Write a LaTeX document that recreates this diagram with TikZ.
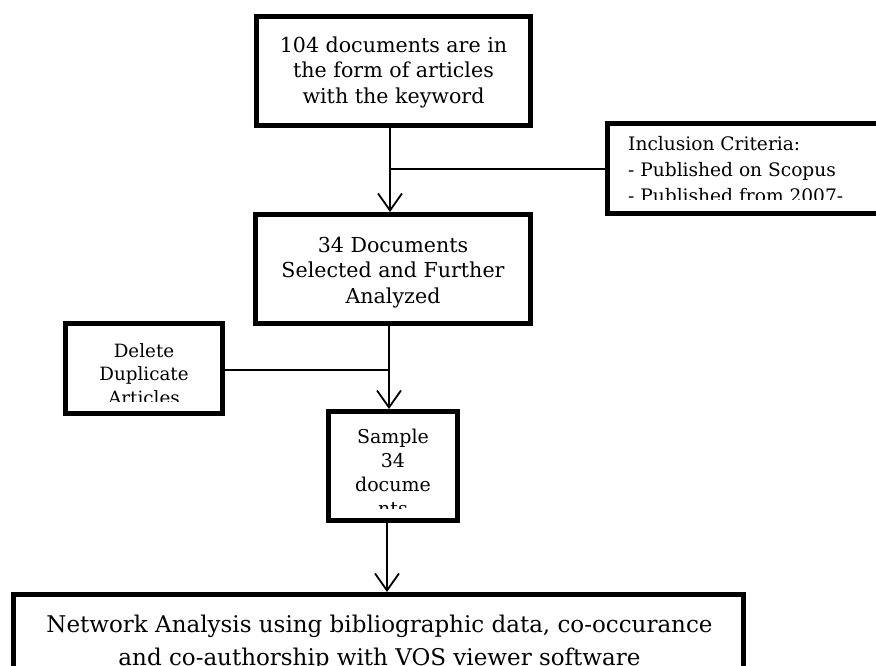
\documentclass[tikz,border=0pt]{standalone}
\usepackage{fontspec}
\setmainfont{DejaVu Serif}
\usetikzlibrary{arrows.meta}
\begin{document}
\begin{tikzpicture}[x=1pt,y=-1pt,
  boxframe/.style={draw=black,line width=5pt,inner sep=0pt},
  txt/.style={inner sep=0pt,text=black},
  conn/.style={draw=black,line width=1.8pt},
  arr/.style={conn,-{Straight Barb[length=17pt,width=24pt,line width=1.8pt]}},
  ]
\useasboundingbox[fill=white] (0,0) rectangle (876,666);
% junction coordinates
\coordinate (j1) at (390,169);
\coordinate (j2) at (389,370);
\coordinate (j3) at (387,560);
% text (clipped as in the reference)
\node[txt,align=center,anchor=north,font=\fontsize{20.6}{25.5}\selectfont] (t1) at (393.5,36.3)
  {104 documents are in\\the form of articles\\with the keyword};
\node[txt,align=center,anchor=north,font=\fontsize{20.6}{25.5}\selectfont] (t2) at (393,237)
  {34 Documents\\Selected and Further\\Analyzed};
\begin{scope}
  \clip (608,124) rectangle (880,200);
  \node[txt,align=left,anchor=north west,font=\fontsize{18.6}{26}\selectfont] (t3) at (628,135.9)
    {Inclusion Criteria:\\- Published on Scopus\\- Published  from 2007-};
\end{scope}
\begin{scope}
  \clip (66,324) rectangle (222,401);
  \node[txt,align=center,anchor=north,font=\fontsize{18.3}{23.5}\selectfont] (t4) at (144,343)
    {Delete\\Duplicate\\Articles};
\end{scope}
\begin{scope}
  \clip (329,412) rectangle (457,508);
  \node[txt,align=center,anchor=north,font=\fontsize{19}{24}\selectfont] (t5) at (393,428.6)
    {Sample\\34\\docume\\nts};
\end{scope}
\node[txt,align=center,anchor=north,font=\fontsize{23}{33}\selectfont] (t6) at (379.5,614.5)
  {Network Analysis using bibliographic data, co-occurance\\and co-authorship with VOS viewer software};
% boxes
\node[boxframe,minimum width=274pt,minimum height=109pt] (b1) at (393.5,71) {};
\node[boxframe,minimum width=275pt,minimum height=109pt] (b2) at (393,269) {};
\node[boxframe,minimum width=290pt,minimum height=90pt] (inc) at (752.5,168.5) {};
\node[boxframe,minimum width=157pt,minimum height=90pt] (del) at (144,368.5) {};
\node[boxframe,minimum width=129pt,minimum height=109pt] (smp) at (393,466) {};
\node[boxframe,minimum width=730pt,minimum height=103pt] (bot) at (378.5,646) {};
% connectors
\draw[arr] (b1.south -| j1) -- (b2.north -| j1);
\draw[conn] (j1) -- (inc.west |- j1);
\draw[arr] (b2.south -| j2) -- (smp.north -| j2);
\draw[conn] (del.east |- j2) -- (j2);
\draw[arr] (smp.south -| j3) -- (bot.north -| j3);
\end{tikzpicture}
\end{document}
